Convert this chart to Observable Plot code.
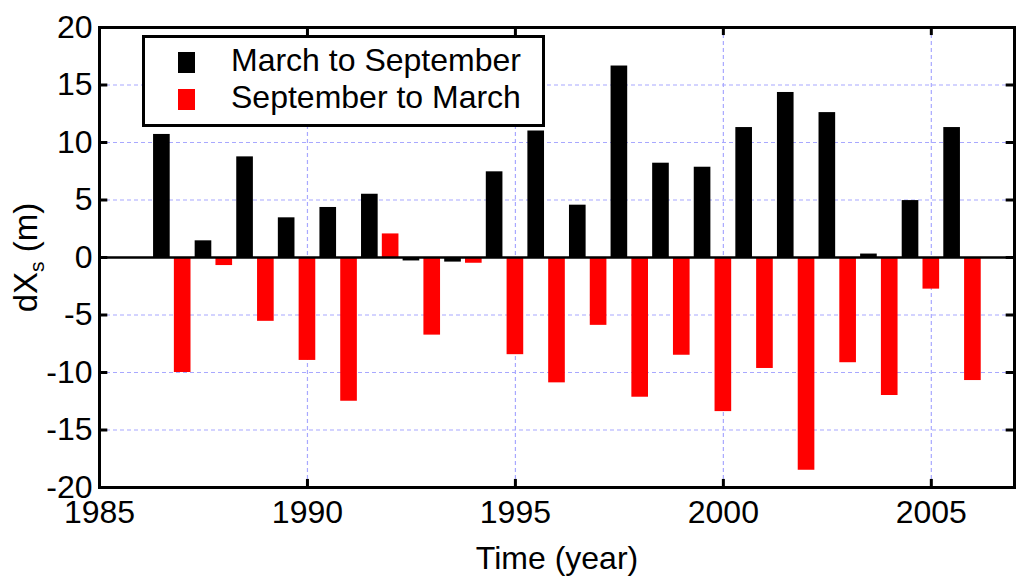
<!DOCTYPE html>
<html>
<head>
<meta charset="utf-8">
<script src="https://cdn.jsdelivr.net/npm/d3@7"></script>
<script src="https://cdn.jsdelivr.net/npm/@observablehq/plot@0.6"></script>
<style>
  html, body { margin: 0; padding: 0; background: #fff; }
  #wrap { position: relative; width: 1024px; height: 585px; font-family: "Liberation Sans", Arial, sans-serif; }
  #legend { position: absolute; left: 142px; top: 35px; width: 403px; height: 92px; box-sizing: border-box;
            border: 3px solid #000; background: #fff; }
  .sw { position: absolute; width: 17px; height: 21px; }
  .lt { position: absolute; font-size: 32px; line-height: 32px; white-space: nowrap; color: #000; }
</style>
</head>
<body>
<div id="wrap"></div>
<script>
// ---- data ----
const seriesNames = ["March to September", "September to March"];
const seriesColors = ["#000000", "#ff0000"];

// March to September (plotted mid-year)
const marSepTime = [1986.5, 1987.5, 1988.5, 1989.5, 1990.5, 1991.5, 1992.5, 1993.5, 1994.5, 1995.5,
                    1996.5, 1997.5, 1998.5, 1999.5, 2000.5, 2001.5, 2002.5, 2003.5, 2004.5, 2005.5];
const marSepValue = [10.7, 1.45, 8.75, 3.45, 4.35, 5.5, -0.3, -0.4, 7.45, 11.0,
                     4.55, 16.65, 8.2, 7.85, 11.3, 14.35, 12.6, 0.3, 4.95, 11.3];

// September to March (plotted at new year)
const sepMarTime = [1987, 1988, 1989, 1990, 1991, 1992, 1993, 1994, 1995, 1996,
                    1997, 1998, 1999, 2000, 2001, 2002, 2003, 2004, 2005, 2006];
const sepMarValue = [-10.0, -0.7, -5.55, -8.95, -12.5, 2.05, -6.75, -0.5, -8.45, -10.9,
                     -5.9, -12.15, -8.5, -13.4, -9.65, -18.5, -9.15, -12.0, -2.75, -10.7];

const xTicks = [1985, 1990, 1995, 2000, 2005];
const yTicks = [-20, -15, -10, -5, 0, 5, 10, 15, 20];
const xGrid = [1990, 1995, 2000, 2005];
const yGrid = [-15, -10, -5, 5, 10, 15];
const xDomain = [1985, 2007];
const yDomain = [-20, 20];
const xLabel = "Time (year)";
const barHalf = 0.2;

const marSep = marSepTime.map((t, i) => ({t, v: marSepValue[i]}));
const sepMar = sepMarTime.map((t, i) => ({t, v: sepMarValue[i]}));

const plot = Plot.plot({
  width: 1024,
  height: 585,
  marginLeft: 99,
  marginRight: 10,
  marginTop: 27,
  marginBottom: 98,
  style: { fontFamily: "Liberation Sans, Arial, sans-serif", background: "#fff", color: "#000" },
  x: { domain: xDomain },
  y: { domain: yDomain },
  marks: [
    Plot.ruleY(yGrid, { stroke: "#a8a8ff", strokeWidth: 1.2, strokeDasharray: "4,3" }),
    Plot.ruleX(xGrid, { stroke: "#a8a8ff", strokeWidth: 1.2, strokeDasharray: "4,3" }),
    Plot.rect(marSep, { x1: d => d.t - barHalf, x2: d => d.t + barHalf, y1: 0, y2: "v", fill: seriesColors[0] }),
    Plot.rect(sepMar, { x1: d => d.t - barHalf, x2: d => d.t + barHalf, y1: 0, y2: "v", fill: seriesColors[1] }),
    Plot.ruleY([0], { stroke: "#000", strokeWidth: 2.5 }),
    // inward tick marks
    Plot.ruleY(yTicks, { x1: xDomain[0], x2: xDomain[0] + 0.2, stroke: "#000", strokeWidth: 3 }),
    Plot.ruleY(yTicks, { x1: xDomain[1] - 0.2, x2: xDomain[1], stroke: "#000", strokeWidth: 3 }),
    Plot.ruleX(xTicks, { y1: yDomain[0], y2: yDomain[0] + 0.7, stroke: "#000", strokeWidth: 3 }),
    Plot.ruleX(xTicks, { y1: yDomain[1] - 0.7, y2: yDomain[1], stroke: "#000", strokeWidth: 3 }),
    Plot.axisX({ ticks: xTicks, tickSize: 0, tickPadding: 13, fontSize: 32, tickFormat: d => String(d), label: null }),
    Plot.axisY({ ticks: yTicks, tickSize: 0, tickPadding: 7, fontSize: 32, tickFormat: d => String(d), label: null }),
    Plot.text([xLabel], { frameAnchor: "bottom", lineAnchor: "bottom", dy: 81, fontSize: 32, fill: "#000" }),
    Plot.text(["dXs (m)"], { frameAnchor: "left", textAnchor: "middle", rotate: -90, dx: -63, lineAnchor: "bottom", fontSize: 33, fill: "#000", className: "ylab" }),
    Plot.frame({ stroke: "#000", strokeWidth: 3 })
  ]
});

// subscript in y label
d3.select(plot).selectAll(".ylab text").each(function() {
  const t = d3.select(this);
  t.text(null);
  t.append("tspan").text("dX");
  t.append("tspan").attr("dy", 7).attr("font-size", 21).text("s");
  t.append("tspan").attr("dy", -7).text(" (m)");
});

const wrap = document.getElementById("wrap");
wrap.appendChild(plot);

// legend
const legend = document.createElement("div");
legend.id = "legend";
seriesNames.forEach((name, i) => {
  const sw = document.createElement("div");
  sw.className = "sw";
  sw.style.background = seriesColors[i];
  sw.style.left = (178 - 145) + "px";
  sw.style.top = (52 + i * 37 - 38) + "px";
  legend.appendChild(sw);
  const lt = document.createElement("div");
  lt.className = "lt";
  lt.textContent = name;
  lt.style.left = (231 - 145) + "px";
  lt.style.top = (44 + i * 37 - 38) + "px";
  legend.appendChild(lt);
});
wrap.appendChild(legend);
</script>
</body>
</html>
